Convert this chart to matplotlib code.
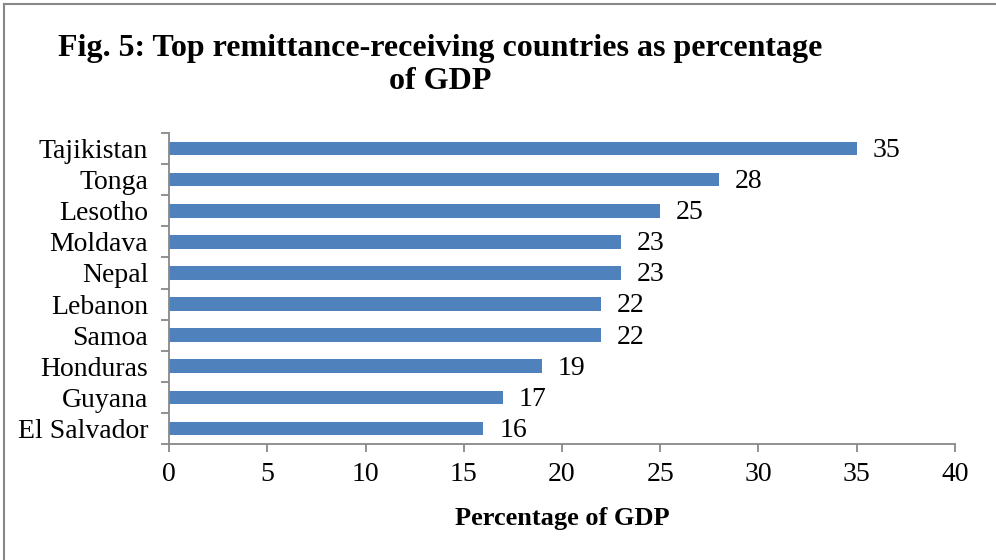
import matplotlib
matplotlib.use("Agg")
import matplotlib.pyplot as plt
import numpy as np
from matplotlib.lines import Line2D

# top remittance-receiving countries, % of GDP
countries = ["Tajikistan", "Tonga", "Lesotho", "Moldava", "Nepal",
             "Lebanon", "Samoa", "Honduras", "Guyana", "El Salvador"]
values = [35, 28, 25, 23, 23, 22, 22, 19, 17, 16]
xticks = [0, 5, 10, 15, 20, 25, 30, 35, 40]

plt.rcParams["font.family"] = ["Liberation Serif", "DejaVu Serif"]

fig = plt.figure(figsize=(9.96, 5.6), dpi=100)
ax = fig.add_axes([0.1697, 0.2071, 0.7891, 0.5554])

# only the left and top edges of the chart frame show
fig.lines.append(Line2D([0.0045, 0.0045], [0, 0.9925], transform=fig.transFigure,
                        color="#888888", linewidth=1.5))
fig.lines.append(Line2D([0.0045, 1], [0.9925, 0.9925], transform=fig.transFigure,
                        color="#888888", linewidth=1.5))

y = np.arange(len(countries))
ax.barh(y, values, height=0.44, color="#4F81BD")
for yi, v in zip(y, values):
    ax.text(v + 0.8, yi + 0.06, str(v), va="center", ha="left", fontsize=20)

ax.set_ylim(len(countries) - 0.5, -0.5)
ax.set_xlim(0, 40)
ax.set_xticks(xticks)
ax.set_xticklabels([str(t) for t in xticks], fontsize=20)
ax.set_yticks(y)
ax.set_yticklabels(countries, fontsize=20)
ax.set_yticks(np.arange(len(countries) + 1) - 0.5, minor=True)
ax.tick_params(axis="y", which="major", length=0, pad=15)
ax.tick_params(axis="y", which="minor", length=6, width=1.3, color="#888888", direction="out")
ax.tick_params(axis="x", length=6, width=1.3, color="#888888", direction="out", pad=7)

for s in ["top", "right"]:
    ax.spines[s].set_visible(False)
for s in ["left", "bottom"]:
    ax.spines[s].set_color("#888888")
    ax.spines[s].set_linewidth(1.3)

ax.set_xlabel("Percentage of GDP", fontsize=19, fontweight="bold", labelpad=14)

fig.text(0.442, 0.884, "Fig. 5: Top remittance-receiving countries as percentage\nof GDP",
         ha="center", va="center", fontsize=23, fontweight="bold", linespacing=1.22)

plt.savefig("out.png", dpi=100)
